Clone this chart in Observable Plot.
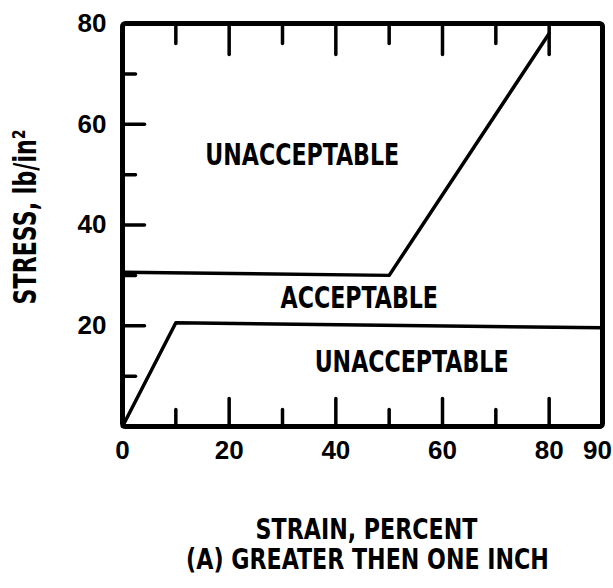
<!DOCTYPE html>
<html>
<head>
<meta charset="utf-8">
<script src="https://cdn.jsdelivr.net/npm/d3@7"></script>
<script src="https://cdn.jsdelivr.net/npm/@observablehq/plot@0.6"></script>
<style>
  html, body { margin: 0; padding: 0; background: #fff; }
  #chart svg { display: block; }
</style>
</head>
<body>
<div id="chart"></div>
<script>
// ---- data ----
const upperStrain = [0, 50, 80];
const upperStress = [30.6, 30, 78];
const lowerStrain = [0, 10, 90];
const lowerStress = [0, 20.6, 19.6];

const regionNames = ["UNACCEPTABLE", "ACCEPTABLE", "UNACCEPTABLE"];
const regionStrain = [33.7, 44.4, 54.2];
const regionStress = [53.8, 25.4, 12.7];

const xTickLabels = [0, 20, 40, 60, 80];
const xEndTickLabel = [90];
const xMinorTicks = [10, 30, 50, 70];
const xMajorTicks = [20, 40, 60, 80];
const yTickLabels = [20, 40, 60, 80];
const yMinorTicks = [10, 30, 50, 70];
const yMajorTicks = [20, 40, 60];

const xTitle = "STRAIN, PERCENT";
const caption = "(A) GREATER THEN ONE INCH";
const yTitle = "STRESS, lb/in²";

// ---- tables built from the arrays ----
const upper = upperStrain.map((x, i) => ({x, y: upperStress[i]}));
const lower = lowerStrain.map((x, i) => ({x, y: lowerStress[i]}));
const regions = regionNames.map((t, i) => ({t, x: regionStrain[i], y: regionStress[i]}));

const FONT = "'Liberation Sans Narrow', 'Arial Narrow', 'DejaVu Sans Condensed', sans-serif";
const NUMFONT = "'Liberation Sans', Arial, sans-serif";

// a plain straight tick shape for vector marks
const stick = {draw(context, l) { context.moveTo(0, 0); context.lineTo(0, -l); }};
const tickStyle = {shape: stick, anchor: "start", stroke: "black", strokeWidth: 3.5, strokeLinecap: "round"};
const numStyle = {tickSize: 0, label: null, fontSize: 26, fontWeight: "bold", fontFamily: NUMFONT};
const bold = {fontWeight: "bold", fontFamily: FONT, fill: "black"};

const chart = Plot.plot({
  width: 613,
  height: 588,
  marginLeft: 122,
  marginRight: 11,
  marginTop: 23,
  marginBottom: 162,
  x: {domain: [0, 90]},
  y: {domain: [0, 80]},
  style: {background: "white", color: "black", fontFamily: FONT},
  marks: [
    // tick labels
    Plot.axisX(xTickLabels, {anchor: "bottom", tickPadding: 14, ...numStyle}),
    Plot.axisX(xEndTickLabel, {anchor: "bottom", tickPadding: 14, dx: -5, ...numStyle}),
    Plot.axisY(yTickLabels, {anchor: "left", tickPadding: 16, ...numStyle}),
    // inward ticks: bottom (pointing up)
    Plot.vector(xMinorTicks, {x: d => d, frameAnchor: "bottom", rotate: 0, length: 17, ...tickStyle}),
    Plot.vector(xMajorTicks, {x: d => d, frameAnchor: "bottom", rotate: 0, length: 28, ...tickStyle}),
    // top (pointing down)
    Plot.vector(xMinorTicks, {x: d => d, frameAnchor: "top", rotate: 180, length: 20, ...tickStyle}),
    Plot.vector(xMajorTicks, {x: d => d, frameAnchor: "top", rotate: 180, length: 31, ...tickStyle}),
    // left (pointing right)
    Plot.vector(yMinorTicks, {y: d => d, frameAnchor: "left", rotate: 90, length: 13, ...tickStyle}),
    Plot.vector(yMajorTicks, {y: d => d, frameAnchor: "left", rotate: 90, length: 22, ...tickStyle}),
    // boundary lines
    Plot.line(upper, {x: "x", y: "y", stroke: "black", strokeWidth: 3.5, strokeLinejoin: "round"}),
    Plot.line(lower, {x: "x", y: "y", stroke: "black", strokeWidth: 3.5, strokeLinejoin: "round"}),
    // region labels
    Plot.text(regions, {x: "x", y: "y", text: "t", fontSize: 30, ...bold}),
    // frame
    Plot.frame({stroke: "black", strokeWidth: 5, rx: 3, strokeLinejoin: "round"}),
    // axis titles
    Plot.text([xTitle], {text: d => d, frameAnchor: "bottom", lineAnchor: "middle", textAnchor: "middle",
      dx: 4, dy: 104, fontSize: 28, ...bold}),
    Plot.text([caption], {text: d => d, frameAnchor: "bottom", lineAnchor: "middle", textAnchor: "middle",
      dx: 5, dy: 134, fontSize: 28, ...bold}),
    Plot.text([yTitle], {text: d => d, frameAnchor: "left", rotate: -90, lineAnchor: "middle", textAnchor: "middle",
      dx: -97, dy: -8, fontSize: 32, ...bold})
  ]
});
document.getElementById("chart").appendChild(chart);

// emulate the condensed bold lettering of the original
function condense(strings, k) {
  chart.querySelectorAll("text").forEach(t => {
    if (!strings.includes(t.textContent.trim())) return;
    const w = t.getComputedTextLength();
    if (w > 0) {
      t.setAttribute("textLength", (w * k).toFixed(1));
      t.setAttribute("lengthAdjust", "spacingAndGlyphs");
    }
  });
}
condense(regionNames, 0.82);
condense([xTitle, caption], 0.88);
condense([yTitle], 0.77);
</script>
</body>
</html>
